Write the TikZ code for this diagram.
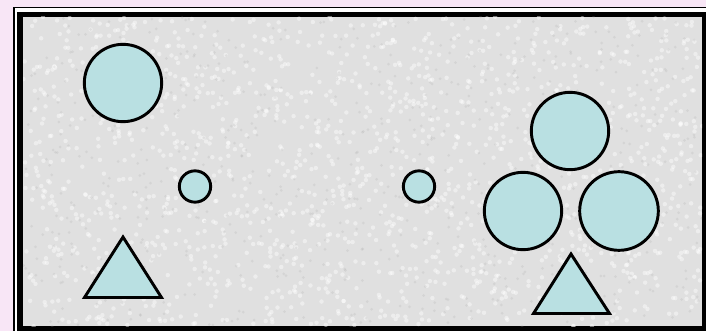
\documentclass[tikz,border=0pt]{standalone}
\definecolor{ballfill}{RGB}{185,224,226}
\definecolor{pinkbg}{RGB}{248,230,246}
\definecolor{boardgrey}{RGB}{224,224,224}
\begin{document}
\begin{tikzpicture}[x=0.75pt,y=-0.75pt,
    ball/.style={circle, draw=black, line width=2.2pt, fill=ballfill, inner sep=0pt},
    wedge/.style={draw=black, line width=2.2pt, fill=ballfill}]
  \useasboundingbox (0,0) rectangle (706,331);
  \clip (0,0) rectangle (706,331);
  %% page background
  \fill[pinkbg] (0,0) rectangle (706,331);
  %% frame: thin line, white gap, thick black, grey board
  \fill[white] (14,7.5) rectangle (720,345);
  \draw[black, line width=1.1pt] (14,7.5) rectangle (720,345);
  \fill[black] (17,12) rectangle (720,345);
  \fill[boardgrey] (23,17) rectangle (702,326);
  %% board texture
  \begin{scope}
    \clip (23,17) rectangle (702,326);
    \pgfmathsetseed{11}
    \foreach \k in {1,...,1600}{
      \pgfmathsetmacro{\px}{362.5+340*rand}
      \pgfmathsetmacro{\py}{171.5+155*rand}
      \fill[white, opacity=0.45] (\px,\py) circle (2.2);
    }
    \foreach \k in {1,...,700}{
      \pgfmathsetmacro{\px}{362.5+340*rand}
      \pgfmathsetmacro{\py}{171.5+155*rand}
      \fill[gray!70, opacity=0.2] (\px,\py) circle (1.5);
    }
  \end{scope}
  %% circles
  \node[ball, minimum size=58pt]   (bigTL)   at (123,83)    {};
  \node[ball, minimum size=23.5pt] (dotL)    at (195,186.5) {};
  \node[ball, minimum size=23.5pt] (dotR)    at (419,186.5) {};
  \node[ball, minimum size=58pt]   (clubTop) at (570,131)   {};
  \node[ball, minimum size=58pt]   (clubL)   at (523,211)   {};
  \node[ball, minimum size=59pt]   (clubR)   at (619,211)   {};
  %% triangles
  \draw[wedge] (123,237) -- (161.5,297.5) -- (84.5,297.5) -- cycle;
  \draw[wedge] (571,254) -- (609.5,313.5) -- (533.5,313.5) -- cycle;
\end{tikzpicture}
\end{document}
